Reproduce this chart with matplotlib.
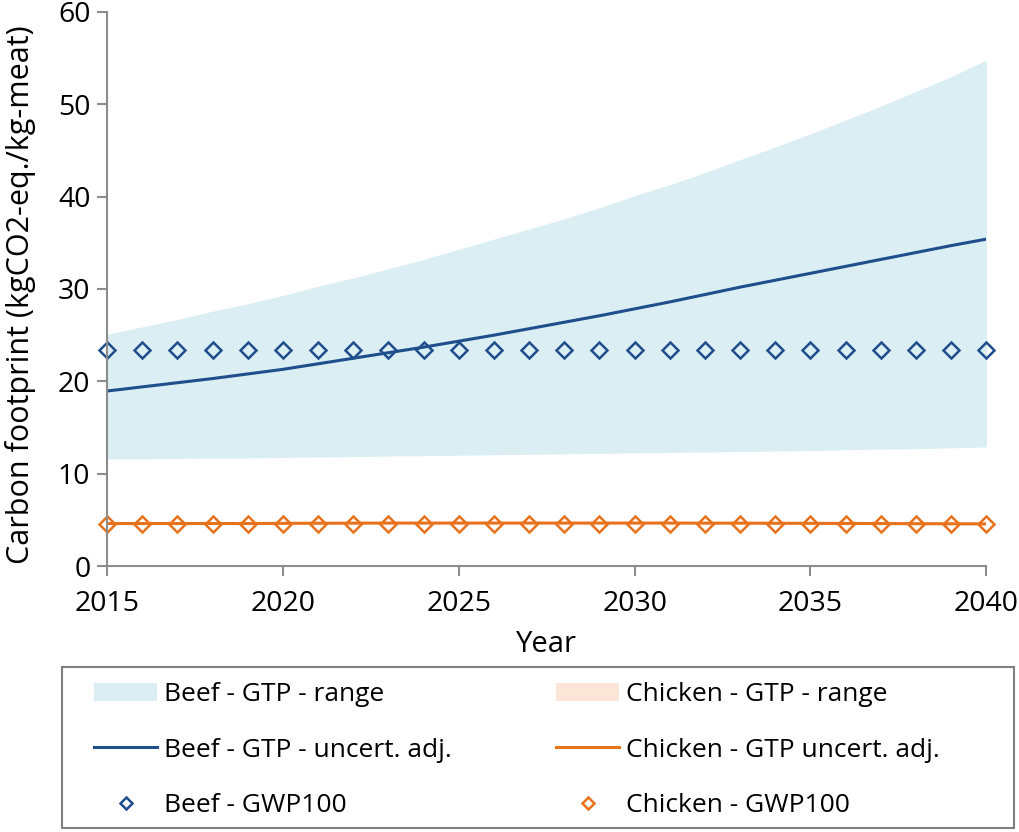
import numpy as np
import matplotlib
matplotlib.use("Agg")
import matplotlib.pyplot as plt
from matplotlib.patches import Rectangle

years = list(range(2015, 2041))

beef_gtp_low = [11.6, 11.6, 11.65, 11.7, 11.7, 11.75, 11.8, 11.85, 11.9, 11.95, 12.0, 12.05, 12.1,
                12.15, 12.2, 12.25, 12.3, 12.35, 12.4, 12.45, 12.5, 12.6, 12.65, 12.7, 12.8, 12.9]
beef_gtp_high = [25.1, 25.9, 26.7, 27.6, 28.4, 29.3, 30.3, 31.2, 32.2, 33.2, 34.3, 35.4, 36.5,
                 37.6, 38.8, 40.1, 41.3, 42.6, 44.0, 45.4, 46.8, 48.3, 49.8, 51.4, 53.0, 54.8]
beef_gtp_adj = [18.95, 19.4, 19.85, 20.3, 20.8, 21.3, 21.9, 22.5, 23.1, 23.7, 24.35, 25.0, 25.7,
                26.4, 27.1, 27.85, 28.6, 29.4, 30.2, 30.95, 31.7, 32.45, 33.2, 33.95, 34.7, 35.4]
beef_gwp100 = [23.4] * 26

chicken_gtp_low = [4.5] * 26
chicken_gtp_high = [4.75] * 26
chicken_gtp_adj = [4.6, 4.6, 4.6, 4.6, 4.6, 4.62, 4.63, 4.64, 4.65, 4.65, 4.65, 4.65, 4.65,
                   4.65, 4.65, 4.65, 4.65, 4.64, 4.64, 4.63, 4.62, 4.61, 4.6, 4.58, 4.57, 4.56]
chicken_gwp100 = [4.6] * 26

blue = "#1F4E8D"
orange = "#E8711C"
blue_fill = "#DAEEF3"
orange_fill = "#FBE5D6"
grey = "#8C8C8C"

plt.rcParams.update({"font.family": ["Open Sans", "DejaVu Sans"]})

W, H = 1020, 832
fig = plt.figure(figsize=(W / 100, H / 100), dpi=100)
ax = fig.add_axes([0.105, 0.3197, 0.862, 0.6659])

b_rng = ax.fill_between(years, beef_gtp_low, beef_gtp_high, color=blue_fill, lw=0)
c_rng = ax.fill_between(years, chicken_gtp_low, chicken_gtp_high, color=orange_fill, lw=0)
b_adj, = ax.plot(years, beef_gtp_adj, color=blue, lw=2.2)
c_adj, = ax.plot(years, chicken_gtp_adj, color=orange, lw=2.2)
b_gwp, = ax.plot(years, beef_gwp100, ls="none", marker="D", ms=8.5, mfc="none", mec=blue,
                 mew=1.8, clip_on=False)
c_gwp, = ax.plot(years, chicken_gwp100, ls="none", marker="D", ms=8.5, mfc="none", mec=orange,
                 mew=1.8, clip_on=False)

ax.set_xlim(2015, 2040)
ax.set_ylim(0, 60)
ax.set_xticks(range(2015, 2041, 5))
ax.set_yticks(range(0, 61, 10))
for s in ["top", "right"]:
    ax.spines[s].set_visible(False)
for s in ["left", "bottom"]:
    ax.spines[s].set_color(grey)
    ax.spines[s].set_linewidth(1.5)
ax.tick_params(direction="out", length=7, width=1.5, color=grey, labelsize=20.5)
ax.tick_params(axis="x", pad=10)
ax.tick_params(axis="y", pad=5)

ax.set_xlabel("Year", fontsize=21, labelpad=9)
ax.set_ylabel("Carbon footprint (kgCO2-eq./kg-meat)", fontsize=22)
ax.yaxis.set_label_coords(-0.081, 0.49)

# legend box drawn separately so it matches the reference frame
fig.patches.append(Rectangle((62 / W, 1 - 828 / H), (1014 - 62) / W, (828 - 667) / H,
                             transform=fig.transFigure, fill=False, edgecolor="#7F7F7F",
                             lw=1.5))
handles = [b_rng, b_adj, b_gwp, c_rng, c_adj, c_gwp]
labels = ["Beef - GTP - range", "Beef - GTP - uncert. adj.", "Beef - GWP100",
          "Chicken - GTP - range", "Chicken - GTP uncert. adj.", "Chicken - GWP100"]
fig.legend(handles, labels, ncol=2, loc="upper left",
           bbox_to_anchor=(94 / W, 1 - 682 / H), borderaxespad=0, borderpad=0,
           fontsize=19, frameon=False, handlelength=2.4, handletextpad=0.25,
           labelspacing=1.16, numpoints=1, markerscale=0.75, columnspacing=3.95)

fig.savefig("out.png", dpi=100)
